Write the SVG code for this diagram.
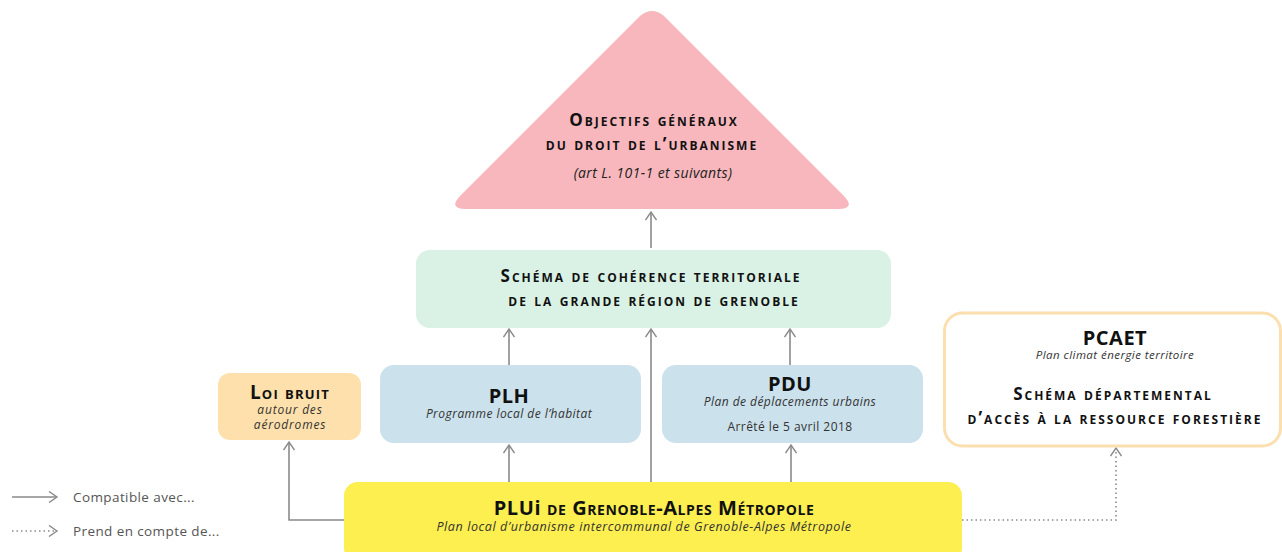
<svg xmlns="http://www.w3.org/2000/svg" width="1282" height="552" viewBox="0 0 1282 552">
<defs>
<marker id="ah" viewBox="0 0 12 12" refX="10" refY="6" markerWidth="12" markerHeight="12" markerUnits="userSpaceOnUse" orient="auto">
<path d="M2,0.5 L10,6 L2,11.5" fill="none" stroke="#8a8a8a" stroke-width="1.4"/>
</marker>
</defs>
<style>
text{font-family:"Open Sans","Noto Sans",sans-serif;fill:#111;text-anchor:middle}
.sc{font-weight:700;font-variant:small-caps;letter-spacing:2px;font-size:17px}
.big{font-weight:700;font-size:20px;letter-spacing:0.5px}
.it{font-style:italic;font-size:12px;fill:#333;letter-spacing:0.45px}
.reg{font-size:12px;fill:#333;letter-spacing:0.45px}
.con{fill:none;stroke:#8a8a8a;stroke-width:1.6;marker-end:url(#ah)}
.dot{fill:none;stroke:#8a8a8a;stroke-width:1.6;stroke-dasharray:1.5 3;marker-end:url(#ah)}
.leg{font-size:13.5px;fill:#555;text-anchor:start;letter-spacing:0.4px}
</style>
<rect width="1282" height="552" fill="#fff"/>

<g id="connectors">
<path class="con" d="M651,248 V212"/>
<path class="con" d="M509,365 V329"/>
<path class="con" d="M651,482 V329"/>
<path class="con" d="M790,365 V329"/>
<path class="con" d="M344,520 H289 V442"/>
<path class="con" d="M509,482 V445"/>
<path class="con" d="M791,482 V445"/>
<path class="dot" d="M962,520 H1116 V448"/>
</g>

<g id="objectifs">
<path d="M640,16 Q652,6 664,16 L844,196 Q856,209 838,209 L466,209 Q448,209 460,196 Z" fill="#f7b7bc"/>
<text class="sc" x="654" y="126">Objectifs généraux</text>
<text class="sc" x="652" y="150">du droit de l’urbanisme</text>
<text x="653" y="178" style="font-style:italic;font-size:14px;fill:#222;letter-spacing:0.4px">(art L. 101-1 et suivants)</text>
</g>

<g id="scot">
<rect x="416" y="250" width="475" height="78" rx="14" fill="#d9f2e5"/>
<text class="sc" x="651" y="282">Schéma de cohérence territoriale</text>
<text class="sc" x="654" y="306">de la grande région de grenoble</text>
</g>

<g id="loibruit">
<rect x="218" y="373" width="143" height="67" rx="12" fill="#fde0ab"/>
<text class="sc" x="290" y="399" style="font-size:19px;letter-spacing:1.2px">Loi bruit</text>
<text class="it" x="290" y="414" style="letter-spacing:0.8px">autour des</text>
<text class="it" x="290" y="429" style="letter-spacing:0.8px">aérodromes</text>
</g>

<g id="plh">
<rect x="380" y="365" width="261" height="78" rx="14" fill="#cbe1ec"/>
<text class="big" x="509" y="403">PLH</text>
<text class="it" x="509" y="418">Programme local de l’habitat</text>
</g>

<g id="pdu">
<rect x="662" y="365" width="261" height="78" rx="14" fill="#cbe1ec"/>
<text class="big" x="790" y="391">PDU</text>
<text class="it" x="790" y="406">Plan de déplacements urbains</text>
<text class="reg" x="790" y="431">Arrêté le 5 avril 2018</text>
</g>

<g id="pcaet">
<rect x="944.5" y="313" width="336" height="133" rx="18" fill="#fff" stroke="#fcdfae" stroke-width="3"/>
<text class="big" x="1115" y="345">PCAET</text>
<text class="it" x="1115" y="359" style="font-size:11.5px">Plan climat énergie territoire</text>
<text class="sc" x="1113" y="400">Schéma départemental</text>
<text class="sc" x="1115" y="424">d’accès à la ressource forestière</text>
</g>

<g id="plui">
<rect x="344" y="482" width="618" height="80" rx="14" fill="#fcef4f"/>
<text class="sc" x="654" y="515" style="font-size:20px;letter-spacing:0.6px">PLU<tspan style="font-variant:normal">i</tspan> de Grenoble-Alpes Métropole</text>
<text class="it" x="644" y="531" style="font-size:12.5px;letter-spacing:0.6px">Plan local d’urbanisme intercommunal de Grenoble-Alpes Métropole</text>
</g>

<g id="legend">
<path class="con" d="M12,497 H57"/>
<text class="leg" x="73" y="502">Compatible avec...</text>
<path class="dot" d="M12,531 H57"/>
<text class="leg" x="73" y="536">Prend en compte de...</text>
</g>
</svg>
